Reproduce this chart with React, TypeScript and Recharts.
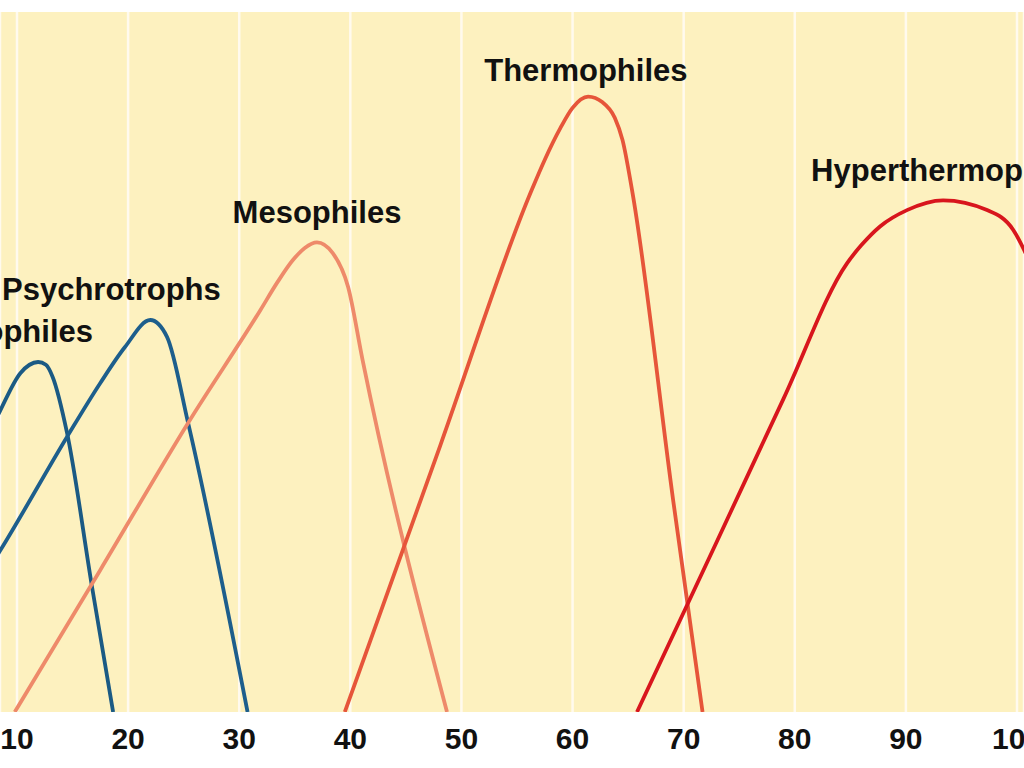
import { LineChart, Line, XAxis, YAxis, CartesianGrid, ReferenceDot } from 'recharts';

// temperature (°C) vs growth rate
const psychrophileTemp = [7, 8.5, 10.3, 11.9, 12.6, 13.2, 14.5, 16.75, 18.65];
const psychrophileRate = [38.1, 43.1, 48.4, 50.0, 49.6, 47.9, 39.9, 17.9, 0];

const psychrotrophTemp = [7, 8.5, 14.5, 17.5, 19.7, 22.0, 23.5, 25.4, 30.75];
const psychrotrophRate = [19.3, 23.1, 39.3, 47.0, 52.1, 56.0, 53.6, 41.3, 0];

const mesophileTemp = [9.8, 17.5, 25.4, 31.9, 33.4, 34.85, 35.9, 37.0, 38.4, 39.8, 41.1, 48.7];
const mesophileRate = [0, 20.3, 41.3, 57.4, 61.3, 64.6, 66.3, 67.1, 65.6, 60.7, 50.3, 0];

const thermophileTemp = [39.5, 48.1, 56.2, 57.5, 58.9, 60.0, 61.4, 62.7, 63.8, 64.5, 65.35, 69.05, 71.7];
const thermophileRate = [0, 38.1, 74.1, 78.9, 83.4, 86.3, 87.9, 87.1, 84.9, 81.7, 74.6, 30.3, 0];

const hyperTemp = [65.8, 73.0, 79.0, 84.7, 86.0, 87.7, 90.1, 93.35, 97.3, 99.65, 100.64, 102.1];
const hyperRate = [0, 24.4, 44.8, 64.1, 66.7, 69.4, 71.7, 73.1, 71.7, 68.9, 66.0, 60.3];

const tempTicks = [10, 20, 30, 40, 50, 60, 70, 80, 90, 100];

const toPoints = (temps: number[], rates: number[]) =>
  temps.map((t, i) => ({ t, rate: rates[i] }));

const series = [
  { name: 'Psychrophiles', data: toPoints(psychrophileTemp, psychrophileRate), color: '#1b5a84' },
  { name: 'Psychrotrophs', data: toPoints(psychrotrophTemp, psychrotrophRate), color: '#1d5e8c' },
  { name: 'Mesophiles', data: toPoints(mesophileTemp, mesophileRate), color: '#ee8a6a' },
  { name: 'Thermophiles', data: toPoints(thermophileTemp, thermophileRate), color: '#e6553a' },
  { name: 'Hyperthermophiles', data: toPoints(hyperTemp, hyperRate), color: '#d8161d' },
];

// label anchors (temp, rate) and text alignment
const labels = [
  { text: 'Psychrophiles', t: 16.84, rate: 54.3, anchor: 'end' },
  { text: 'Psychrotrophs', t: 8.65, rate: 60.4, anchor: 'start' },
  { text: 'Mesophiles', t: 37.0, rate: 71.4, anchor: 'middle' },
  { text: 'Thermophiles', t: 61.2, rate: 91.7, anchor: 'middle' },
  { text: 'Hyperthermophiles', t: 81.47, rate: 77.4, anchor: 'start' },
];

const FONT = '"Liberation Sans", Arial, Helvetica, sans-serif';

export default function App() {
  return (
    <div style={{ position: 'absolute', left: 0, top: 0, width: 1024, height: 768, overflow: 'hidden', background: '#fff' }}>
      <LineChart width={1024} height={768} margin={{ top: 12, right: 0, left: 0, bottom: 0 }}>
        <CartesianGrid horizontal={false} fill="#fdf1bf" stroke="#fffaee" strokeWidth={2.5} />
        <XAxis
          type="number"
          dataKey="t"
          domain={[8.47, 100.63]}
          allowDataOverflow
          ticks={tempTicks}
          interval={0}
          height={56}
          axisLine={false}
          tickLine={false}
          tickMargin={10}
          tick={{ fontSize: 30, fontWeight: 700, fill: '#111', fontFamily: FONT }}
        />
        <YAxis hide type="number" domain={[0, 100]} allowDataOverflow />
        {series.map((s) => (
          <Line
            key={s.name}
            data={s.data}
            dataKey="rate"
            type="monotone"
            stroke={s.color}
            strokeWidth={3.8}
            dot={false}
            isAnimationActive={false}
          />
        ))}
        {labels.map((l) => (
          <ReferenceDot
            key={l.text}
            x={l.t}
            y={l.rate}
            ifOverflow="visible"
            shape={(p: any) => (
              <text
                x={p.cx}
                y={p.cy}
                textAnchor={l.anchor}
                dominantBaseline="central"
                fontSize={31}
                fontWeight={700}
                fill="#111"
                fontFamily={FONT}
              >
                {l.text}
              </text>
            )}
          />
        ))}
      </LineChart>
    </div>
  );
}
